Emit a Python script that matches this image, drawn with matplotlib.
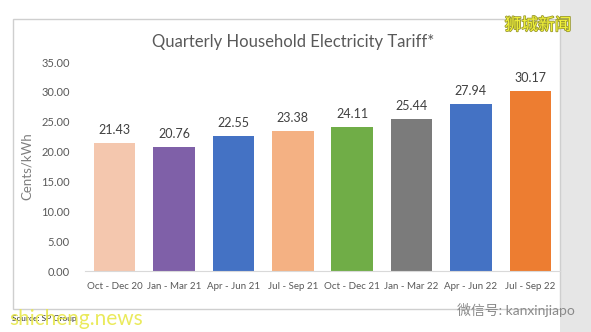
import matplotlib
matplotlib.use('Agg')
import matplotlib.pyplot as plt
import matplotlib.patches as patches
import matplotlib.patheffects as pe

# Data
categories = ['Oct - Dec 20', 'Jan - Mar 21', 'Apr - Jun 21', 'Jul - Sep 21',
              'Oct - Dec 21', 'Jan - Mar 22', 'Apr - Jun 22', 'Jul - Sep 22']
tariff = [21.43, 20.76, 22.55, 23.38, 24.11, 25.44, 27.94, 30.17]
bar_colors = ['#F4C7AE', '#7F60A8', '#4472C4', '#F4B183',
              '#70AD47', '#7B7B7B', '#4472C4', '#ED7D31']
yticks = [0, 5, 10, 15, 20, 25, 30, 35]

plt.rcParams['font.family'] = ['Lato', 'Noto Sans CJK SC', 'DejaVu Sans']

fig = plt.figure(figsize=(5.91, 3.32), dpi=100)
fig.patch.set_facecolor('white')

# grey strip at the right edge and chart frame
fig.add_artist(patches.Rectangle((0.948, 0), 0.052, 1, transform=fig.transFigure,
                                 facecolor='#E6E6E6', edgecolor='none', zorder=-2))
fig.add_artist(patches.Rectangle((13 / 591, 1 - 309 / 332), (560 - 13) / 591, (309 - 19) / 332,
                                 transform=fig.transFigure, facecolor='white',
                                 edgecolor='#CFCFCF', lw=1.0, zorder=-1))

ax = fig.add_axes([85 / 591, 1 - 271 / 332, (560 - 85) / 591, (271 - 62) / 332])
ax.set_zorder(1)
ax.set_facecolor('none')

x = range(len(categories))
bars = ax.bar(x, tariff, width=0.7, color=bar_colors, zorder=2)
for xi, v in zip(x, tariff):
    ax.text(xi, v + 1.2, f'{v:.2f}', ha='center', va='bottom', fontsize=9, color='#404040')

ax.set_xlim(-0.5, len(categories) - 0.5)
ax.set_ylim(0, 35)
ax.set_yticks(yticks)
ax.set_yticklabels([f'{t:.2f}' for t in yticks], fontsize=8, color='#595959')
ax.set_xticks(list(x))
ax.set_xticklabels(categories, fontsize=7, color='#595959')
ax.tick_params(length=0, pad=8)
ax.tick_params(axis='y', pad=11)
for s in ['top', 'right', 'left']:
    ax.spines[s].set_visible(False)
ax.spines['bottom'].set_color('#D9D9D9')
ax.set_ylabel('Cents/kWh', fontsize=9.5, color='#7F7F7F', labelpad=6)

fig.text(293 / 591, 1 - 42 / 332, 'Quarterly Household Electricity Tariff*', ha='center', va='center',
         fontsize=12, color='#595959')

# watermarks
fig.text(538 / 591, 1 - 25 / 332, '狮城新闻', ha='center', va='center', fontsize=12,
         color='#F2F23A', path_effects=[pe.withStroke(linewidth=1.2, foreground='#9A9A30')])
fig.text(12 / 591, 1 - 318 / 332, 'Source: SP Group', ha='left', va='center', fontsize=6,
         color='#303030')
fig.text(9 / 591, 1 - 319 / 332, 'shicheng.news', ha='left', va='center', fontsize=15,
         color='#E8E84A', alpha=0.9)
fig.text(575 / 591, 1 - 310 / 332, '微信号: kanxinjiapo', ha='right', va='center', fontsize=10,
         color='#8A8A8A')

plt.savefig('out.png', dpi=100, facecolor=fig.get_facecolor())
